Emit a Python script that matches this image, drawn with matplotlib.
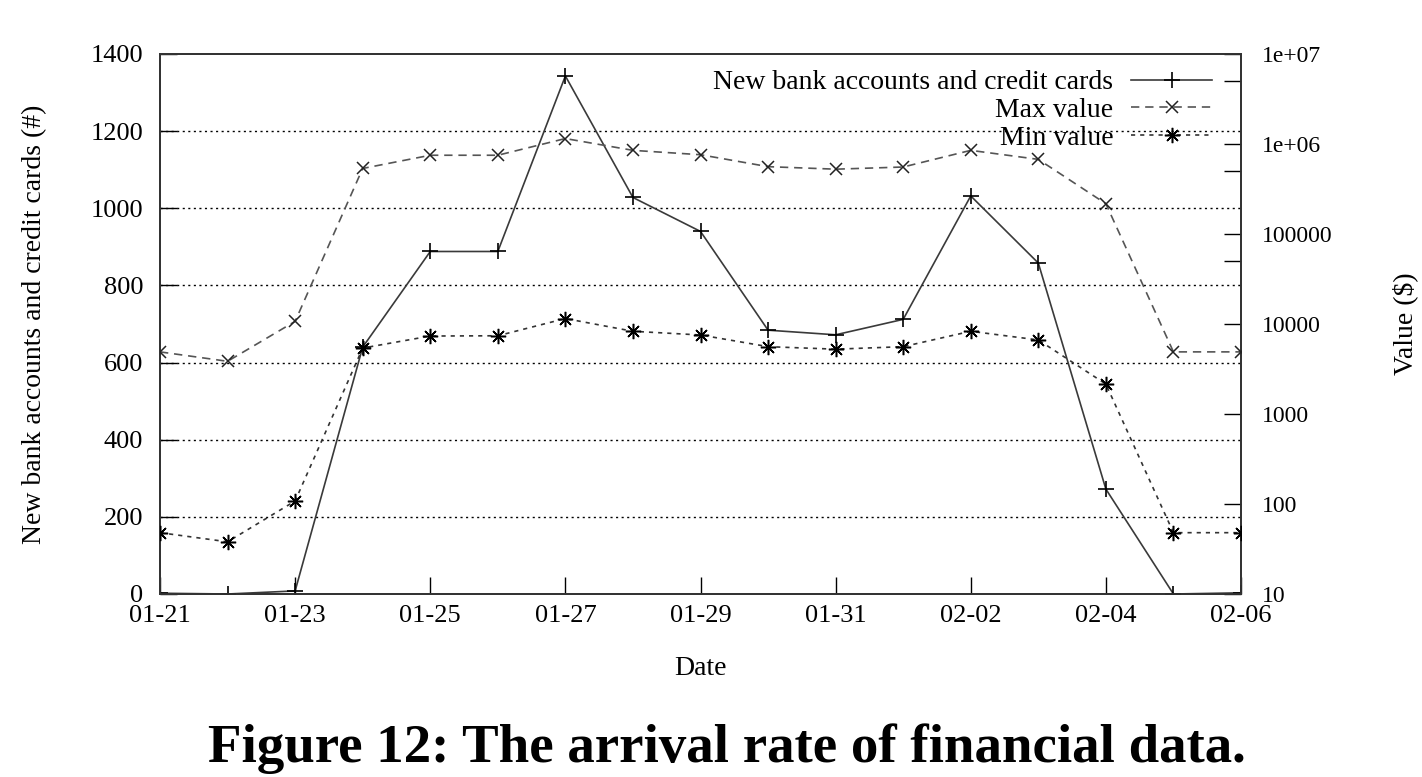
import numpy as np
import matplotlib
matplotlib.use("Agg")
import matplotlib.pyplot as plt

plt.rcParams['font.family'] = ['Liberation Serif', 'DejaVu Serif']

dates = ["01-21", "01-22", "01-23", "01-24", "01-25", "01-26", "01-27", "01-28", "01-29",
         "01-30", "01-31", "02-01", "02-02", "02-03", "02-04", "02-05", "02-06"]
new_accounts = [2, 0, 8, 640, 888, 888, 1343, 1028, 940, 684, 672, 712, 1032, 858, 272, 0, 3]
max_value = [4900, 3850, 10700, 535000, 750000, 750000, 1150000, 850000, 760000, 560000,
             525000, 555000, 850000, 675000, 217000, 4900, 4900]
min_value = [48, 38, 108, 5400, 7350, 7400, 11500, 8300, 7550, 5600, 5250, 5600, 8300,
             6650, 2150, 48, 48]
left_ticks = [0, 200, 400, 600, 800, 1000, 1200, 1400]
right_ticks = [10, 100, 1000, 10000, 100000, 1000000, 10000000]
right_ticklabels = ["10", "100", "1000", "10000", "100000", "1e+06", "1e+07"]
right_minor = [5e4, 5e5, 5e6]

W, H = 1422, 777
fig = plt.figure(figsize=(W / 100, H / 100), dpi=100)
L, R, T, B = 160, 1241, 54, 594
ax = fig.add_axes([L / W, 1 - B / H, (R - L) / W, (B - T) / H])
ax2 = ax.twinx()

x = np.arange(len(dates))
fs_tick = 19
fs_rtick = 17
fs_lab = 20

# grid lines
for v in left_ticks[1:-1]:
    ax.axhline(v, color='black', lw=1.0, ls=(0, (1.5, 2.5)), zorder=1)

l1, = ax.plot(x, new_accounts, color='#3a3a3a', lw=1.2, marker='+', markersize=12,
              markeredgecolor='black', markeredgewidth=1.2, zorder=3)
l2, = ax2.plot(x, max_value, color='#555555', lw=1.2, ls=(0, (5, 3.5)), marker='x',
               markersize=9, markeredgecolor='#222222', markeredgewidth=1.1, zorder=3)
l3, = ax2.plot(x, min_value, color='#333333', lw=1.2, ls=(0, (2.5, 3)), marker=(8, 2, 0),
               markersize=11, markeredgecolor='black', markeredgewidth=1.1, zorder=3)

ax.set_xlim(0, len(dates) - 1)
ax.set_ylim(0, 1400)
ax2.set_yscale('log')
ax2.set_ylim(10, 1e7)

ax.set_xticks(x[::2])
ax.set_xticklabels(dates[::2], fontsize=fs_tick)
ax.set_yticks(left_ticks)
ax.set_yticklabels([str(v) for v in left_ticks], fontsize=fs_tick)
ax.tick_params(axis='x', direction='in', length=12, width=1.0, pad=8, top=False)
ax.tick_params(axis='y', direction='in', length=12, width=1.0, pad=12)

ax2.set_yticks(right_ticks)
ax2.set_yticklabels(right_ticklabels, fontsize=fs_rtick)
ax2.set_yticks(right_minor, minor=True)
ax2.yaxis.set_minor_formatter(matplotlib.ticker.NullFormatter())
ax2.tick_params(axis='y', which='major', direction='in', length=12, width=1.0, pad=15)
ax2.tick_params(axis='y', which='minor', direction='in', length=12, width=1.0)

for a in (ax, ax2):
    for s in a.spines.values():
        s.set_color('#333333')
        s.set_linewidth(1.3)

ax.set_xlabel("Date", fontsize=fs_lab, labelpad=21)
ax.set_ylabel("New bank accounts and credit cards (#)", fontsize=fs_lab, labelpad=31)
ax2.set_ylabel("Value ($)", fontsize=fs_lab)
ax2.yaxis.set_label_coords((1405 - L) / (R - L), 0.5)
ax2.yaxis.label.set_va('center')
ax2.yaxis.label.set_ha('center')

leg = ax2.legend([l1, l2, l3], ["New bank accounts and credit cards", "Max value", "Min value"],
                 loc='upper right', bbox_to_anchor=(1212 / W, 1 - 70 / H),
                 bbox_transform=fig.transFigure, frameon=False, markerfirst=False,
                 fontsize=fs_lab, handlelength=2.9, handletextpad=0.65, labelspacing=0.08,
                 borderpad=0, borderaxespad=0)

fig.text(0.511, 1 - 749 / H, "Figure 12: The arrival rate of financial data.",
         ha='center', va='center', fontsize=39.5, fontweight='bold')

fig.savefig("out.png", dpi=100)
